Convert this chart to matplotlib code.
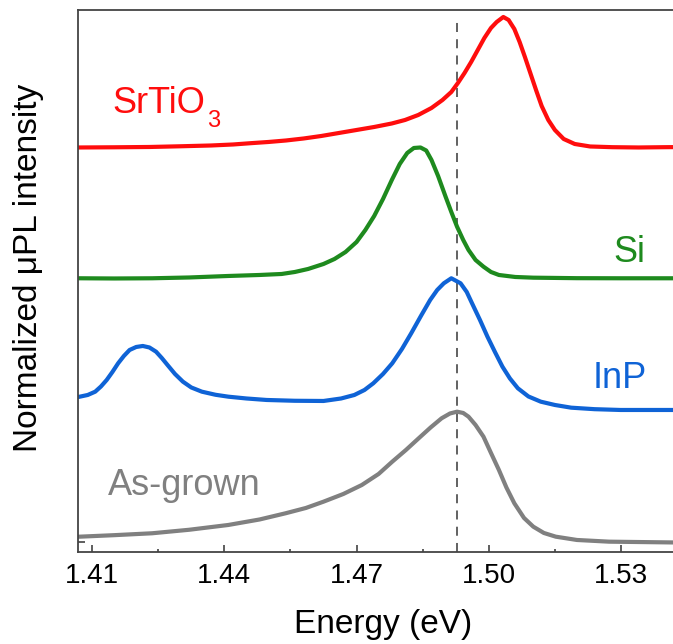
"""
Normalized micro-PL spectra of the transferred / as-grown samples
"""
import matplotlib

matplotlib.use("Agg")
import matplotlib.pyplot as plt
from matplotlib.ticker import MultipleLocator, FormatStrFormatter

plt.rcParams["font.family"] = ["Liberation Sans", "DejaVu Sans"]

# spectra (energy in eV, intensity with vertical offsets)
srtio3_energy = [1.4070, 1.4150, 1.4230, 1.4300, 1.4370, 1.4420, 1.4460, 1.4500,
                 1.4540, 1.4580, 1.4620, 1.4660, 1.4700, 1.4740, 1.4780, 1.4810,
                 1.4840, 1.4870, 1.4895, 1.4915, 1.4930, 1.4945, 1.4960, 1.4975,
                 1.4990, 1.5005, 1.5018, 1.5033, 1.5045, 1.5058, 1.5070, 1.5082,
                 1.5095, 1.5108, 1.5120, 1.5135, 1.5150, 1.5170, 1.5195, 1.5230,
                 1.5280, 1.5340, 1.5400, 1.5460]
srtio3_intensity = [4.045, 4.047, 4.050, 4.057, 4.065, 4.075, 4.088, 4.100,
                    4.115, 4.135, 4.160, 4.190, 4.220, 4.250, 4.285, 4.320,
                    4.370, 4.440, 4.520, 4.600, 4.690, 4.790, 4.900, 5.020,
                    5.140, 5.240, 5.300, 5.350, 5.320, 5.230, 5.100, 4.950,
                    4.780, 4.610, 4.460, 4.320, 4.220, 4.130, 4.080, 4.055,
                    4.048, 4.045, 4.048, 4.050]

si_energy = [1.4072, 1.4150, 1.4236, 1.4320, 1.4409, 1.4480, 1.4530, 1.4560,
             1.4590, 1.4625, 1.4650, 1.4675, 1.4700, 1.4720, 1.4740, 1.4760,
             1.4780, 1.4798, 1.4815, 1.4830, 1.4845, 1.4858, 1.4870, 1.4885,
             1.4902, 1.4915, 1.4928, 1.4942, 1.4954, 1.4970, 1.4988, 1.5005,
             1.5023, 1.5060, 1.5101, 1.5200, 1.5300, 1.5460]
si_intensity = [2.737, 2.735, 2.737, 2.745, 2.760, 2.770, 2.780, 2.800,
                2.830, 2.880, 2.930, 3.000, 3.100, 3.220, 3.360, 3.530,
                3.720, 3.880, 3.990, 4.040, 4.045, 4.015, 3.920, 3.760,
                3.553, 3.400, 3.253, 3.120, 3.020, 2.920, 2.853, 2.800,
                2.770, 2.750, 2.743, 2.738, 2.737, 2.737]

inp_energy = [1.4072, 1.4090, 1.4107, 1.4120, 1.4133, 1.4146, 1.4159, 1.4172,
              1.4185, 1.4200, 1.4215, 1.4230, 1.4245, 1.4258, 1.4271, 1.4288,
              1.4306, 1.4325, 1.4349, 1.4380, 1.4409, 1.4450, 1.4496, 1.4560,
              1.4625, 1.4665, 1.4695, 1.4718, 1.4738, 1.4760, 1.4781, 1.4803,
              1.4824, 1.4846, 1.4867, 1.4883, 1.4898, 1.4915, 1.4936, 1.4950,
              1.4962, 1.4980, 1.4997, 1.5014, 1.5031, 1.5048, 1.5066, 1.5090,
              1.5118, 1.5150, 1.5187, 1.5240, 1.5299, 1.5460]
inp_intensity = [1.553, 1.570, 1.603, 1.655, 1.720, 1.800, 1.887, 1.960,
                 2.020, 2.050, 2.060, 2.045, 2.003, 1.940, 1.870, 1.780,
                 1.703, 1.645, 1.603, 1.572, 1.553, 1.535, 1.520, 1.512,
                 1.510, 1.535, 1.570, 1.620, 1.687, 1.780, 1.887, 2.030,
                 2.187, 2.360, 2.520, 2.620, 2.687, 2.737, 2.687, 2.600,
                 2.487, 2.320, 2.153, 2.000, 1.853, 1.735, 1.637, 1.555,
                 1.503, 1.470, 1.443, 1.428, 1.420, 1.420]

grown_energy = [1.4072, 1.4150, 1.4236, 1.4320, 1.4409, 1.4480, 1.4539, 1.4585,
                1.4625, 1.4670, 1.4712, 1.4750, 1.4781, 1.4812, 1.4841, 1.4868,
                1.4893, 1.4912, 1.4928, 1.4942, 1.4954, 1.4970, 1.4988, 1.5005,
                1.5023, 1.5040, 1.5058, 1.5080, 1.5101, 1.5125, 1.5152, 1.5200,
                1.5273, 1.5460]
grown_intensity = [0.153, 0.168, 0.187, 0.222, 0.270, 0.325, 0.387, 0.440,
                   0.503, 0.580, 0.670, 0.780, 0.903, 1.020, 1.137, 1.245,
                   1.337, 1.385, 1.403, 1.390, 1.353, 1.270, 1.153, 0.990,
                   0.820, 0.645, 0.487, 0.340, 0.253, 0.190, 0.153, 0.120,
                   0.103, 0.093]

peak_energy = 1.4928
x_ticks = [1.41, 1.44, 1.47, 1.50, 1.53]

RED = "#ff0d0d"
GREEN = "#1e8a1e"
BLUE = "#0f63d6"
GRAY = "#808080"

fig = plt.figure(figsize=(6.73, 6.44), dpi=100)
ax = fig.add_axes([0.1166, 0.1429, 0.905, 0.8416])

ax.plot(grown_energy, grown_intensity, color=GRAY, lw=3)
ax.plot(inp_energy, inp_intensity, color=BLUE, lw=3)
ax.plot(si_energy, si_intensity, color=GREEN, lw=3)
ax.plot(srtio3_energy, srtio3_intensity, color=RED, lw=3)

ax.plot([peak_energy, peak_energy], [0, 5.3], color="#555555", lw=1.3,
        ls=(0, (5, 4)), zorder=0)

# SrTiO3 with a strongly lowered subscript, as in the original
srtio = ax.text(1.4147, 4.39, "SrTiO", color=RED, fontsize=26)
ax.annotate("3", xy=(1, 0), xycoords=srtio, xytext=(1, -4),
            textcoords="offset points", color=RED, fontsize=17, va="baseline")
ax.text(1.5282, 2.90, "Si", color=GREEN, fontsize=26)
ax.text(1.5235, 1.64, "InP", color=BLUE, fontsize=26)
ax.text(1.4136, 0.57, "As-grown", color=GRAY, fontsize=26)

ax.set_xlim(1.4069, 1.5451)
ax.set_ylim(0, 5.42)
ax.set_xticks(x_ticks)
ax.xaxis.set_major_formatter(FormatStrFormatter("%.2f"))
ax.xaxis.set_minor_locator(MultipleLocator(0.015))
ax.set_yticks([0.10])
ax.set_yticklabels([])
ax.tick_params(which="major", direction="in", length=5, width=1.1,
               labelsize=20, pad=8, color="#333333")
ax.tick_params(which="minor", direction="in", length=2.5, width=1.1,
               color="#333333")
ax.tick_params(axis="x", top=False)

for side in ["left", "bottom", "top"]:
    ax.spines[side].set_linewidth(1.3)
    ax.spines[side].set_color("#444444")
ax.spines["right"].set_visible(False)

ax.set_xlabel("Energy (eV)", fontsize=24)
ax.set_ylabel("Normalized μPL intensity", fontsize=24)
ax.xaxis.set_label_coords(0.5, -0.106)
ax.yaxis.set_label_coords(-0.057, 0.524)

fig.savefig("out.png", dpi=100)
